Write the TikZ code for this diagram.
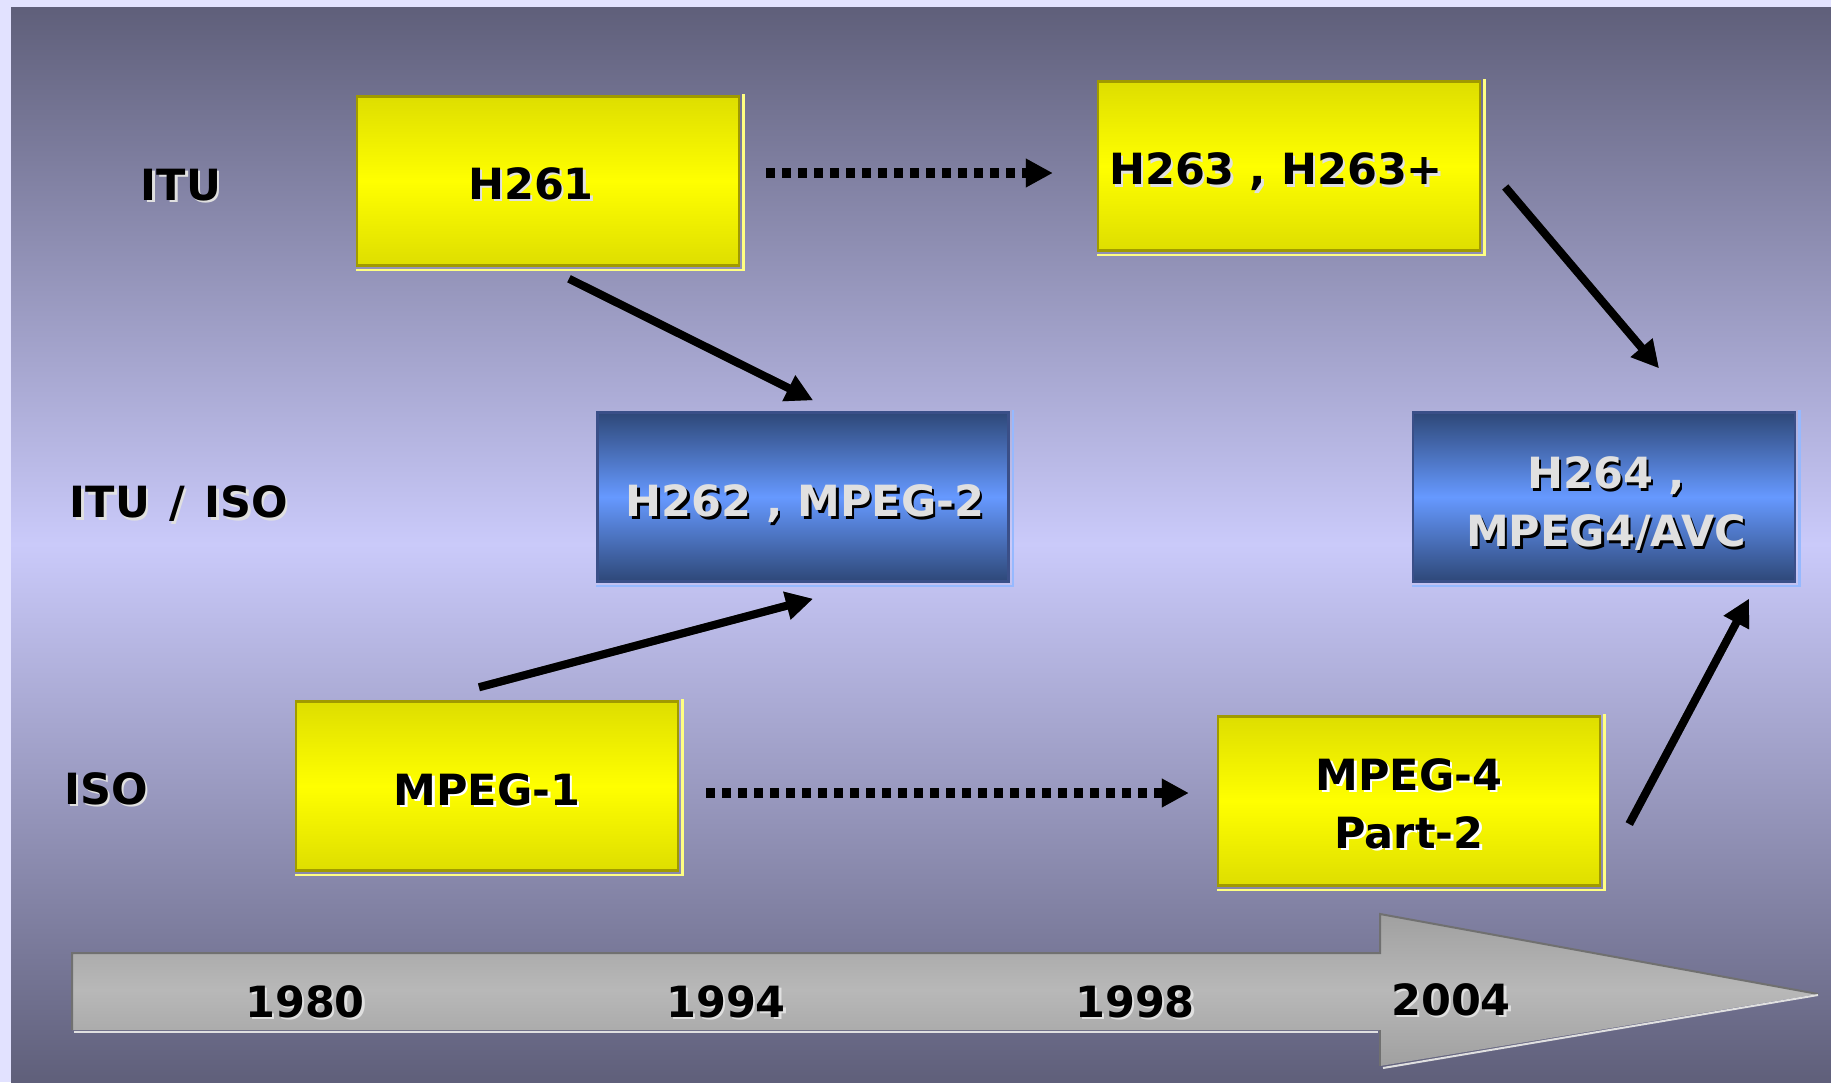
\documentclass[tikz,border=0pt]{standalone}
\usepackage{fontspec}
\setmainfont{DejaVu Sans}
\usetikzlibrary{arrows.meta,calc}
\definecolor{bgdark}{RGB}{95,95,122}
\definecolor{bglight}{RGB}{202,202,250}
\definecolor{marg}{RGB}{226,226,255}
\definecolor{ydark}{RGB}{222,222,0}
\definecolor{yedge}{RGB}{160,154,0}
\definecolor{ylight}{RGB}{255,255,130}
\definecolor{bdark}{RGB}{46,72,120}
\definecolor{bmid}{RGB}{102,153,255}
\definecolor{bedge}{RGB}{58,79,136}
\definecolor{blight}{RGB}{150,185,255}
\definecolor{gdark}{RGB}{160,160,160}
\definecolor{gmid}{RGB}{184,184,184}
\definecolor{gedge}{RGB}{112,112,112}
\definecolor{glight}{RGB}{224,224,224}
\definecolor{txlight}{RGB}{224,224,224}
\definecolor{shgray}{RGB}{100,100,100}
\newcommand\ShTx[3]{\makebox[0pt][l]{\kern2.5pt\raisebox{-2.5pt}{\color{#2}#3}}{\color{#1}#3}}
\tikzset{
  boxbase/.style={minimum width=382pt, minimum height=169pt, inner sep=0pt, line width=2.5pt},
  ybox/.style={boxbase, top color=ydark, bottom color=ydark, middle color=yellow, draw=yedge},
  bbox/.style={boxbase, top color=bdark, bottom color=bdark, middle color=bmid, draw=bedge},
  boxtext/.style={align=center, inner sep=0pt, font=\fontsize{43}{58}\selectfont\bfseries},
  rowlab/.style={font=\fontsize{43}{52}\selectfont\bfseries, inner sep=0pt},
  yearlab/.style={font=\fontsize{43}{52}\selectfont\bfseries, inner sep=0pt},
  bigarr/.style={line width=8pt, -{Triangle[length=27pt,width=27pt]}},
  dotarr/.style={line width=10pt, dash pattern=on 9pt off 7pt, -{Triangle[length=27pt,width=27pt]}},
}
\newcommand\EdgeL[2]{\draw[#2, line width=2.5pt] ([shift={(3,-1)}]#1.north east) -- ([shift={(3,3)}]#1.south east) -- ([shift={(0,3)}]#1.south west);}
\begin{document}
\begin{tikzpicture}[x=1pt,y=-1pt]
\useasboundingbox (0,0) rectangle (1831,1082);
\fill[marg] (0,0) rectangle (1831,1082);
\shade[top color=bgdark, bottom color=bgdark, middle color=bglight] (11,7) rectangle (1831,1082);

% row labels
\node[rowlab] (litu) at (181,186) {\ShTx{black}{glight}{ITU}};
\node[rowlab] (lituiso) at (179,505) {\ShTx{black}{glight}{ITU\hspace{0.45em}/\hspace{0.45em}ISO}};
\node[rowlab] (liso) at (106,790) {\ShTx{black}{glight}{ISO}};

% boxes
\node[ybox] (h261) at (548,181) {};
\EdgeL{h261}{ylight}
\node[boxtext] (h261t) at ([shift={(-17,4)}]h261.center) {\ShTx{black}{glight}{H261}};
\node[ybox] (h263) at (1289,166) {};
\EdgeL{h263}{ylight}
\node[boxtext] (h263t) at ([shift={(-13,7)}]h263.center) {\ShTx{black}{glight}{H263 , H263+}};
\node[bbox, minimum width=411pt] (h262) at (803,497) {};
\EdgeL{h262}{blight}
\node[boxtext] (h262t) at ([shift={(2,8)}]h262.center) {\ShTx{txlight}{black}{H262 , MPEG-2}};
\node[bbox] (h264) at (1604,497) {};
\EdgeL{h264}{blight}
\node[boxtext] (h264t) at ([shift={(2,8)}]h264.center) {\ShTx{txlight}{black}{H264 ,}\\\ShTx{txlight}{black}{MPEG4/AVC}};
\node[ybox] (mpeg1) at (487,786) {};
\EdgeL{mpeg1}{ylight}
\node[boxtext] (mpeg1t) at ([shift={(0,5)}]mpeg1.center) {\ShTx{black}{white}{MPEG-1}};
\node[ybox] (mpeg4) at (1409,801) {};
\EdgeL{mpeg4}{ylight}
\node[boxtext] (mpeg4t) at ([shift={(0,4)}]mpeg4.center) {\ShTx{black}{white}{MPEG-4}\\\ShTx{black}{white}{Part-2}};

% timeline arrow
\shade[top color=gdark, bottom color=gdark, middle color=gmid]
  (72,953) -- (1380,953) -- (1380,914) -- (1818,994) -- (1380,1066) -- (1380,1030) -- (72,1030) -- cycle;
\draw[gedge, line width=2pt] (72,1030) -- (72,953) -- (1380,953) -- (1380,914) -- (1818,994);
\draw[glight, line width=2pt] (1818,995) -- (1383,1068);
\draw[glight, line width=2pt] (74,1032) -- (1378,1032);
\draw[gedge, line width=2pt] (1380,1030) -- (1380,1066);
\node[yearlab] (y1980) at (305,1003) {\ShTx{black}{glight}{1980}};
\node[yearlab] (y1994) at (726,1003) {\ShTx{black}{glight}{1994}};
\node[yearlab] (y1998) at (1135,1003) {\ShTx{black}{glight}{1998}};
\node[yearlab] (y2004) at (1451,1001) {\ShTx{black}{glight}{2004}};

% shadows of connectors
\begin{scope}[shift={(3,3)}, shgray]
\draw[bigarr] ([shift={(21,12)}]h261.south) -- ([shift={(10,-11)}]h262.north);
\draw[bigarr] ([shift={(-8,-13)}]mpeg1.north) -- ([shift={(10,16)}]h262.south);
\draw[bigarr] ([shift={(24,21)}]h263.east) -- ([shift={(55,-43)}]h264.north);
\draw[bigarr] ([shift={(28,23)}]mpeg4.east) -- ([shift={(145,16)}]h264.south);
\draw[dotarr] ([shift={(26,-8)}]h261.east) -- ([shift={(-44,7)}]h263.west);
\draw[dotarr] ([shift={(27,7)}]mpeg1.east) -- ([shift={(-28,-8)}]mpeg4.west);
\end{scope}
% connectors
\draw[bigarr] ([shift={(21,12)}]h261.south) -- ([shift={(10,-11)}]h262.north);
\draw[bigarr] ([shift={(-8,-13)}]mpeg1.north) -- ([shift={(10,16)}]h262.south);
\draw[bigarr] ([shift={(24,21)}]h263.east) -- ([shift={(55,-43)}]h264.north);
\draw[bigarr] ([shift={(28,23)}]mpeg4.east) -- ([shift={(145,16)}]h264.south);
\draw[dotarr] ([shift={(26,-8)}]h261.east) -- ([shift={(-44,7)}]h263.west);
\draw[dotarr] ([shift={(27,7)}]mpeg1.east) -- ([shift={(-28,-8)}]mpeg4.west);
\end{tikzpicture}
\end{document}
